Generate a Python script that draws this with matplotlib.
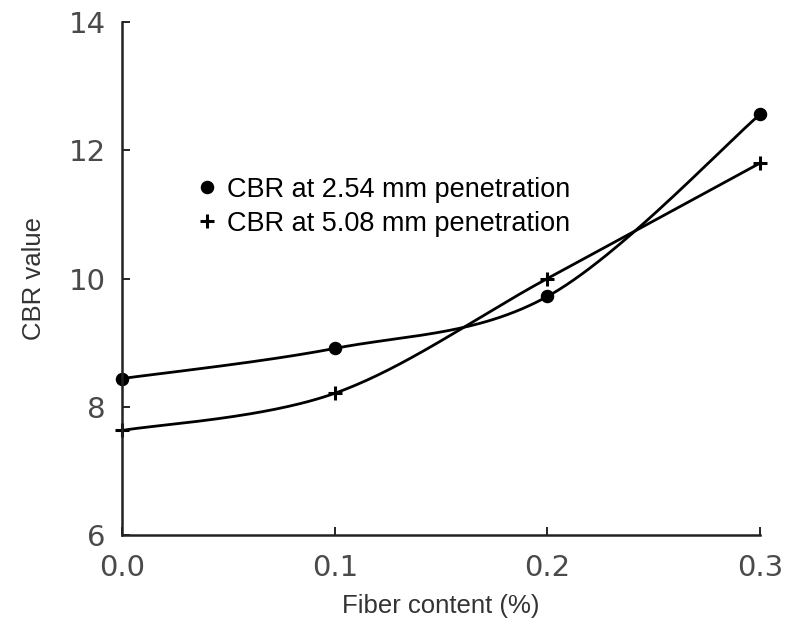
import numpy as np
import matplotlib
matplotlib.use("Agg")
import matplotlib.pyplot as plt

# fiber content and the two CBR series
fiber = [0.0, 0.1, 0.2, 0.3]
cbr_254 = [8.44, 8.91, 9.72, 12.56]
cbr_508 = [7.63, 8.21, 10.0, 11.8]

x_ticks = [0.0, 0.1, 0.2, 0.3]
y_ticks = [6, 8, 10, 12, 14]


# smooth curve through the points, like a spreadsheet "smoothed line"
def smooth(xs, ys, n=60):
    p = np.column_stack([xs, ys]).astype(float)
    p = np.vstack([p[0], p, p[-1]])
    out = []
    for i in range(1, len(p) - 2):
        p0, p1, p2, p3 = p[i - 1], p[i], p[i + 1], p[i + 2]
        c1 = p1 + (p2 - p0) / 6
        c2 = p2 - (p3 - p1) / 6
        t = np.linspace(0, 1, n)[:, None]
        seg = ((1 - t) ** 3) * p1 + 3 * ((1 - t) ** 2) * t * c1 \
            + 3 * (1 - t) * t ** 2 * c2 + t ** 3 * p2
        out.append(seg)
    out = np.vstack(out)
    return out[:, 0], out[:, 1]


fig = plt.figure(figsize=(7.88, 6.21), dpi=100)
ax = fig.add_axes([0.155, 0.1385, 0.8095, 0.826])

for ys, mk, ms, lab in [(cbr_254, "o", 7.5, "CBR at 2.54 mm penetration"),
                        (cbr_508, "+", 10, "CBR at 5.08 mm penetration")]:
    sx, sy = smooth(fiber, ys)
    ax.plot(sx, sy, color="black", lw=2.0)
    ax.plot(fiber, ys, linestyle="none", marker=mk, markersize=ms,
            color="black", markeredgewidth=2.2, label=lab, clip_on=False)

ax.set_xlim(0, 0.3)
ax.set_ylim(6, 14)
ax.set_xticks(x_ticks)
ax.set_xticklabels([f"{v:.1f}" for v in x_ticks])
ax.set_yticks(y_ticks)

for s in ["top", "right"]:
    ax.spines[s].set_visible(False)
for s in ["left", "bottom"]:
    ax.spines[s].set_linewidth(1.8)
    ax.spines[s].set_color("#222222")

ax.tick_params(direction="in", length=6, width=1.2, labelsize=21,
               labelcolor="#4a4a4a")
ax.tick_params(axis="x", pad=14)
ax.tick_params(axis="y", pad=12)

ax.set_xlabel("Fiber content (%)", fontsize=18.5, color="#333333",
              family="Liberation Sans", labelpad=8)
ax.set_ylabel("CBR value", fontsize=18.5, color="#333333",
              family="Liberation Sans", labelpad=16)

ax.legend(loc="upper left", bbox_to_anchor=(0.105, 0.72), frameon=False,
          handlelength=0.5, handletextpad=0.5,
          prop={"family": "Liberation Sans", "size": 19.5},
          labelspacing=0.3, borderaxespad=0)

fig.savefig("out.png", dpi=100)
